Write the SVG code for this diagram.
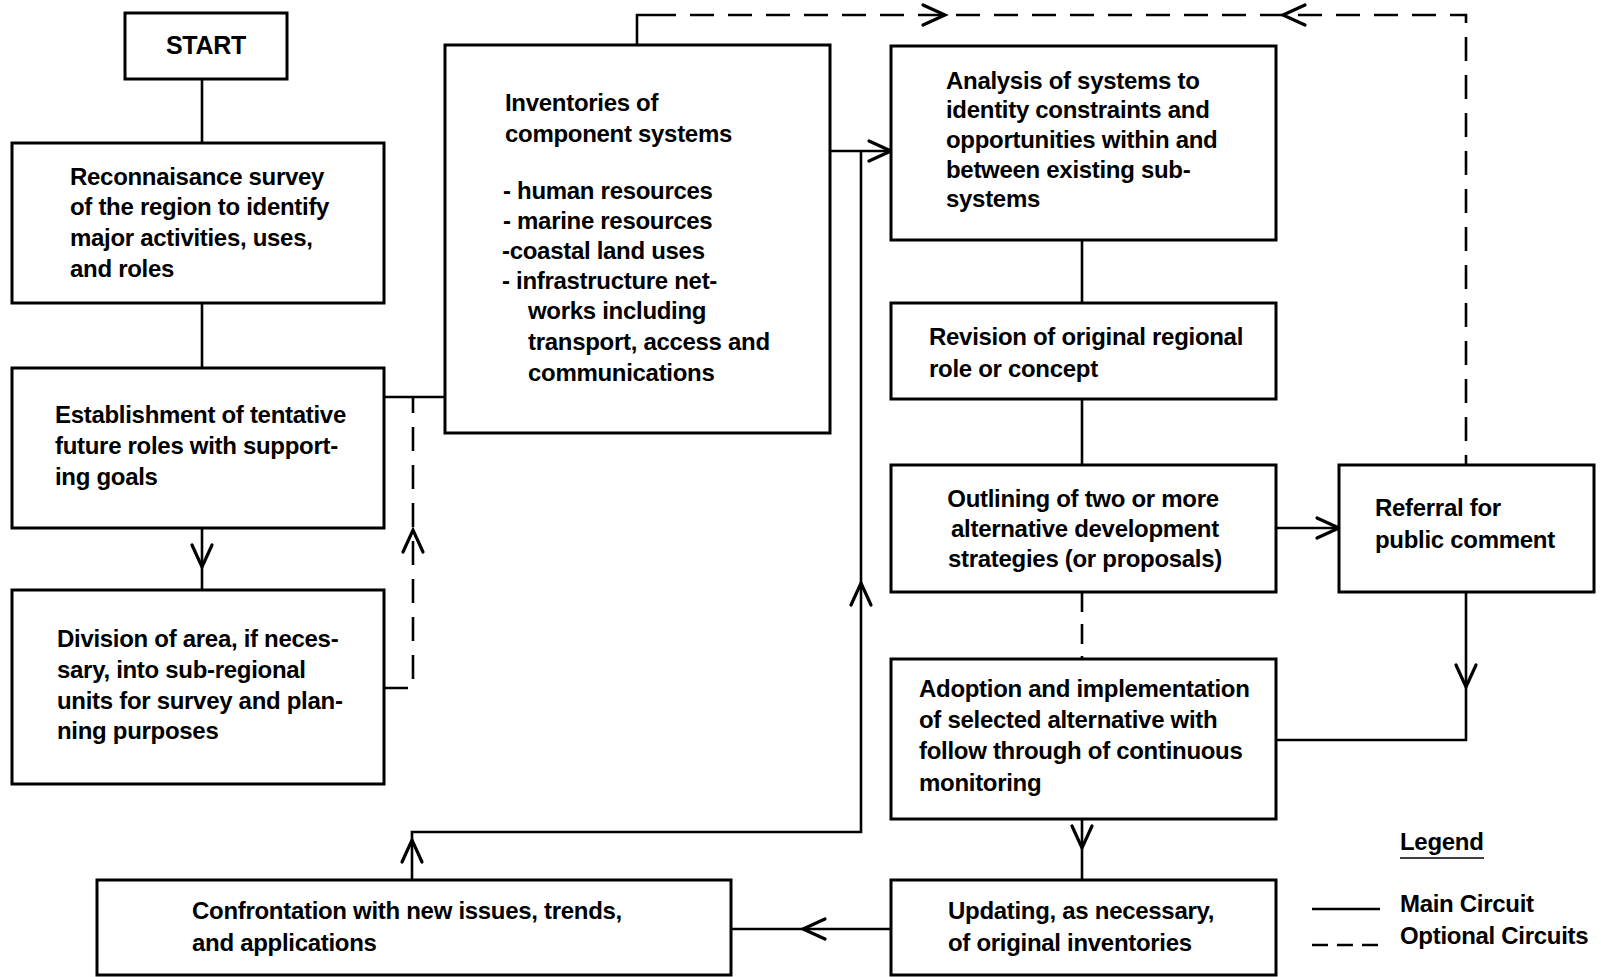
<svg xmlns="http://www.w3.org/2000/svg" width="1601" height="977" viewBox="0 0 1601 977">
<style>
  .box { fill: #fff; stroke: #000; stroke-width: 3; }
  .t { font-family: "Liberation Sans", Arial, sans-serif; font-weight: bold; font-size: 24px; letter-spacing: -0.3px; fill: #000; }
  .c { text-anchor: middle; }
  .ln { fill: none; stroke: #000; stroke-width: 2.6; }
  .dash { fill: none; stroke: #000; stroke-width: 2.6; stroke-dasharray: 24 14; }
  .arr { fill: none; stroke: #000; stroke-width: 3.2; stroke-linecap: round; stroke-linejoin: miter; }
</style>
<defs>
  <path id="ah" class="arr" d="M-22,-10 L0,0 L-22,10"/>
</defs>
<rect width="1601" height="977" fill="#fff"/>

<g id="connectors">
  <path class="ln" d="M202,80 V143"/>
  <path class="ln" d="M202,303 V368"/>
  <path class="ln" d="M202,528 V590"/>
  <use href="#ah" transform="translate(202,567) rotate(90)"/>
  <path class="ln" d="M384,397 H445"/>
  <path class="dash" d="M384,688 H413 V397"/>
  <use href="#ah" transform="translate(413,530) rotate(-90)"/>
  <path class="ln" d="M637,45 V15 H652"/>
  <path class="dash" d="M652,15 H1466 V465"/>
  <use href="#ah" transform="translate(945,15)"/>
  <use href="#ah" transform="translate(1283,15) rotate(180)"/>
  <path class="ln" d="M830,151 H891"/>
  <use href="#ah" transform="translate(891,151)"/>
  <path class="ln" d="M412,880 V832 H861 V151"/>
  <use href="#ah" transform="translate(861,583) rotate(-90)"/>
  <use href="#ah" transform="translate(412,840) rotate(-90)"/>
  <path class="ln" d="M1082,240 V303"/>
  <path class="ln" d="M1082,399 V465"/>
  <path class="dash" d="M1082,592 V659" style="stroke-dasharray:20 12"/>
  <path class="ln" d="M1276,528 H1339"/>
  <use href="#ah" transform="translate(1339,528)"/>
  <path class="ln" d="M1466,592 V740 H1276"/>
  <use href="#ah" transform="translate(1466,687) rotate(90)"/>
  <path class="ln" d="M1082,819 V880"/>
  <use href="#ah" transform="translate(1082,848) rotate(90)"/>
  <path class="ln" d="M891,929 H731"/>
  <use href="#ah" transform="translate(803,929) rotate(180)"/>
</g>

<g id="start">
  <rect class="box" x="125" y="13" width="162" height="66"/>
  <text class="t c" x="206" y="54" style="font-size:25px">START</text>
</g>

<g id="reconnaisance">
  <rect class="box" x="12" y="143" width="372" height="160"/>
  <text class="t" x="70" y="185">Reconnaisance survey</text>
  <text class="t" x="70" y="215">of the region to identify</text>
  <text class="t" x="70" y="246">major activities, uses,</text>
  <text class="t" x="70" y="277">and roles</text>
</g>

<g id="establishment">
  <rect class="box" x="12" y="368" width="372" height="160"/>
  <text class="t" x="55" y="423">Establishment of tentative</text>
  <text class="t" x="55" y="454">future roles with support-</text>
  <text class="t" x="55" y="485">ing goals</text>
</g>

<g id="division">
  <rect class="box" x="12" y="590" width="372" height="194"/>
  <text class="t" x="57" y="647">Division of area, if neces-</text>
  <text class="t" x="57" y="678">sary, into sub-regional</text>
  <text class="t" x="57" y="709">units for survey and plan-</text>
  <text class="t" x="57" y="739">ning purposes</text>
</g>

<g id="inventories">
  <rect class="box" x="445" y="45" width="385" height="388"/>
  <text class="t" x="505" y="111">Inventories of</text>
  <text class="t" x="505" y="142">component systems</text>
  <text class="t" x="503" y="199">- human resources</text>
  <text class="t" x="503" y="229">- marine resources</text>
  <text class="t" x="502" y="259">-coastal land uses</text>
  <text class="t" x="502" y="289">- infrastructure net-</text>
  <text class="t" x="528" y="319">works including</text>
  <text class="t" x="528" y="350">transport, access and</text>
  <text class="t" x="528" y="381">communications</text>
</g>

<g id="analysis">
  <rect class="box" x="891" y="46" width="385" height="194"/>
  <text class="t" x="946" y="89">Analysis of systems to</text>
  <text class="t" x="946" y="118">identity constraints and</text>
  <text class="t" x="946" y="148">opportunities within and</text>
  <text class="t" x="946" y="178">between existing sub-</text>
  <text class="t" x="946" y="207">systems</text>
</g>

<g id="revision">
  <rect class="box" x="891" y="303" width="385" height="96"/>
  <text class="t" x="929" y="345">Revision of original regional</text>
  <text class="t" x="929" y="377">role or concept</text>
</g>

<g id="outlining">
  <rect class="box" x="891" y="465" width="385" height="127"/>
  <text class="t c" x="1083" y="507">Outlining of two or more</text>
  <text class="t c" x="1085" y="537">alternative development</text>
  <text class="t c" x="1085" y="567">strategies (or proposals)</text>
</g>

<g id="referral">
  <rect class="box" x="1339" y="465" width="255" height="127"/>
  <text class="t" x="1375" y="516">Referral for</text>
  <text class="t" x="1375" y="548">public comment</text>
</g>

<g id="adoption">
  <rect class="box" x="891" y="659" width="385" height="160"/>
  <text class="t" x="919" y="697">Adoption and implementation</text>
  <text class="t" x="919" y="728">of selected alternative with</text>
  <text class="t" x="919" y="759">follow through of continuous</text>
  <text class="t" x="919" y="791">monitoring</text>
</g>

<g id="updating">
  <rect class="box" x="891" y="880" width="385" height="95"/>
  <text class="t" x="948" y="919">Updating, as necessary,</text>
  <text class="t" x="948" y="951">of original inventories</text>
</g>

<g id="confrontation">
  <rect class="box" x="97" y="880" width="634" height="95"/>
  <text class="t" x="192" y="919">Confrontation with new issues, trends,</text>
  <text class="t" x="192" y="951">and applications</text>
</g>

<g id="legend">
  <text class="t" x="1400" y="850">Legend</text>
  <path class="ln" d="M1400,858 H1484" style="stroke-width:1.6"/>
  <path class="ln" d="M1312,909 H1380"/>
  <text class="t" x="1400" y="912">Main Circuit</text>
  <path class="ln" d="M1312,945 H1380" style="stroke-dasharray:16 9"/>
  <text class="t" x="1400" y="944">Optional Circuits</text>
</g>
</svg>
